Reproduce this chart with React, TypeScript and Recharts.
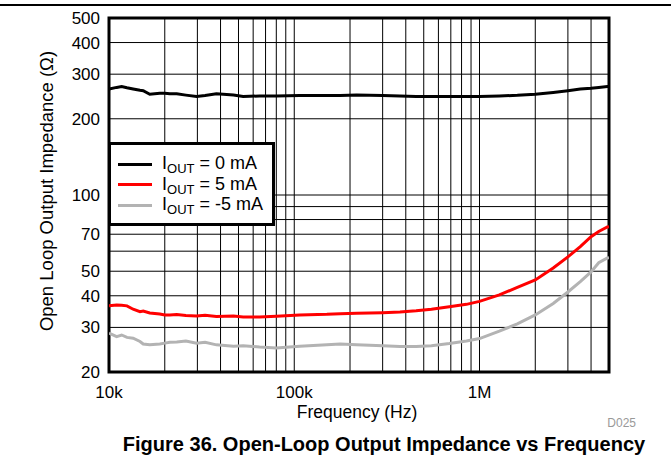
import React from 'react';
import { LineChart, Line, XAxis, YAxis, CartesianGrid, ReferenceArea } from 'recharts';

// frequency points (Hz)
const freqHz = [
  10000, 11000, 11700, 12500, 13500, 14700, 15300, 16600, 18800, 20000,
  21300, 23200, 26000, 29700, 33000, 38000, 47000, 53000, 65000, 80000,
  107000, 150000, 177000, 217000, 300000, 372000, 455000, 550000, 687000, 850000,
  1000000, 1280000, 1600000, 2000000, 2500000, 3000000, 3500000, 4000000, 4400000, 4900000,
  5000000,
];

// impedance in ohms
const zOut0mA = [
  262, 266, 268, 265, 262, 259, 258, 250, 252, 252,
  251, 251, 248, 245, 247, 251, 248, 245, 246, 246,
  247, 247, 247, 248, 247, 246, 245, 245, 245, 245,
  245, 246, 247.5, 250, 254, 258, 262, 264, 266, 268,
  268,
];
const zOut5mA = [
  36.5, 36.8, 36.7, 36.5, 35.4, 34.6, 34.8, 34.2, 33.9, 33.6,
  33.6, 33.7, 33.4, 33.3, 33.5, 33.1, 33.3, 33.0, 33.0, 33.2,
  33.6, 33.8, 34.0, 34.1, 34.3, 34.5, 34.9, 35.4, 36.2, 37.0,
  38.0, 40.3, 43.2, 46.2, 51.5, 57, 62.5, 68.4, 71.8, 74.8,
  75,
];
const zOutNeg5mA = [
  28.5, 27.6, 28.0, 27.4, 27.2, 26.4, 25.8, 25.6, 25.8, 26.0,
  26.2, 26.3, 26.5, 26.0, 26.2, 25.6, 25.3, 25.4, 25.1, 24.9,
  25.3, 25.6, 25.8, 25.6, 25.4, 25.2, 25.2, 25.4, 25.9, 26.5,
  27.1, 29.0, 31.0, 33.6, 37.3, 41.4, 45.5, 49.7, 54, 56.4,
  56.6,
];

const xTicks = [
  10000, 20000, 30000, 40000, 50000, 60000, 70000, 80000, 90000,
  100000, 200000, 300000, 400000, 500000, 600000, 700000, 800000, 900000,
  1000000, 2000000, 3000000, 4000000, 5000000,
];
const xTickLabels: Record<number, string> = { 10000: '10k', 100000: '100k', 1000000: '1M' };
const yTicks = [20, 30, 40, 50, 60, 70, 80, 90, 100, 200, 300, 400, 500];
const yTickLabels = [20, 30, 40, 50, 70, 100, 200, 300, 400, 500];

const series = [
  { key: 'z0', current: '0 mA', color: '#000000', values: zOut0mA },
  { key: 'z5', current: '5 mA', color: '#ff0000', values: zOut5mA },
  { key: 'zn5', current: '-5 mA', color: '#b3b3b3', values: zOutNeg5mA },
];

const data = freqHz.map((f, i) => {
  const row: any = { f };
  series.forEach(s => { row[s.key] = s.values[i]; });
  return row;
});

const font = '"Liberation Sans", Arial, Helvetica, sans-serif';

const XTitle = (props: any) => {
  const vb = props.viewBox;
  return (
    <text x={vb.x + vb.width / 2 - 2} y={vb.y + 46} textAnchor="middle" fontSize={17.5} fill="#000">
      Frequency (Hz)
    </text>
  );
};

const YTitle = (props: any) => {
  const vb = props.viewBox;
  const cx = vb.x - 3;
  const cy = vb.y + vb.height / 2 - 4;
  return (
    <text x={cx} y={cy} transform={`rotate(-90 ${cx} ${cy})`} textAnchor="middle" dominantBaseline="central" fontSize={18.5} fill="#000">
      Open Loop Output Impedance (Ω)
    </text>
  );
};

export default function App() {
  return (
    <div style={{ position: 'absolute', left: 0, top: 0, width: 671, height: 466, background: '#fff', fontFamily: font }}>
      <div style={{ position: 'absolute', left: 0, top: 4, width: 671, height: 2, background: '#000' }} />

      <LineChart width={671} height={466} data={data} margin={{ top: 18, right: 62, bottom: 54, left: 49 }}>
        <CartesianGrid stroke="#000" strokeWidth={1} syncWithTicks />
        <XAxis
          dataKey="f"
          type="number"
          scale="log"
          domain={[10000, 5000000]}
          allowDataOverflow
          ticks={xTicks}
          interval={0}
          tickFormatter={(v: number) => xTickLabels[v] ?? ''}
          axisLine={false}
          tickLine={false}
          tickSize={0}
          tickMargin={14}
          tick={{ fill: '#000', fontSize: 17 }}
          height={40}
          label={XTitle}
        />
        <YAxis
          type="number"
          scale="log"
          domain={[20, 500]}
          allowDataOverflow
          ticks={yTicks}
          interval={0}
          tickFormatter={(v: number) => (yTickLabels.includes(v) ? String(v) : '')}
          axisLine={false}
          tickLine={false}
          tickSize={0}
          tickMargin={9}
          tick={{ fill: '#000', fontSize: 17 }}
          width={60}
          label={YTitle}
        />
        {series.map(s => (
          <Line
            key={s.key}
            type="linear"
            dataKey={s.key}
            stroke={s.color}
            strokeWidth={3}
            dot={false}
            activeDot={false}
            isAnimationActive={false}
          />
        ))}
        <ReferenceArea x1={10000} x2={5000000} y1={20} y2={500} fill="none" stroke="#000" strokeWidth={3} ifOverflow="visible" />
      </LineChart>

      {/* legend box */}
      <div style={{ position: 'absolute', left: 108, top: 142, width: 167, height: 84, boxSizing: 'border-box', border: '3px solid #000', background: '#fff' }}>
        {series.map((s, i) => (
          <div key={s.key} style={{ position: 'absolute', left: 7, top: 9 + i * 20.5, height: 20, display: 'flex', alignItems: 'center', whiteSpace: 'nowrap' }}>
            <span style={{ display: 'inline-block', width: 34, height: 3, background: s.color, marginRight: 10 }} />
            <span style={{ fontSize: 18, color: '#000', lineHeight: '20px' }}>
              I<span style={{ fontSize: 13, position: 'relative', top: 4 }}>OUT</span> = {s.current}
            </span>
          </div>
        ))}
      </div>

      <div style={{ position: 'absolute', right: 35, top: 416, fontSize: 12, color: '#999' }}>D025</div>
      <div style={{ position: 'absolute', left: 0, width: 768, top: 433, textAlign: 'center', fontSize: 20, fontWeight: 'bold', color: '#000' }}>
        Figure 36. Open-Loop Output Impedance vs Frequency
      </div>
    </div>
  );
}
